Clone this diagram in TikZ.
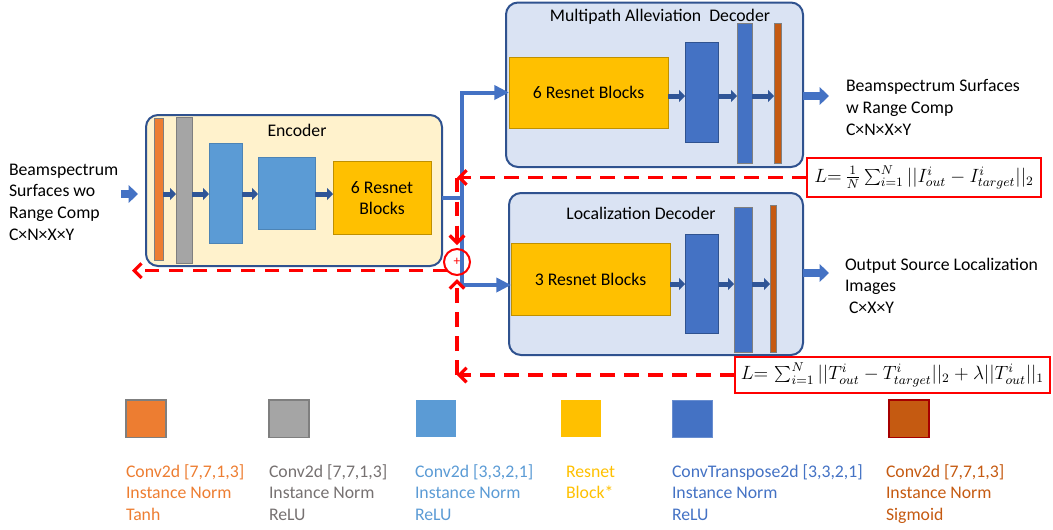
\documentclass[tikz,border=0pt]{standalone}
\usepackage{fontspec}
\setmainfont{Carlito}
\usetikzlibrary{arrows.meta,fit}

\definecolor{encfill}{HTML}{FFF2CC}
\definecolor{decfill}{HTML}{DAE3F3}
\definecolor{frame}{HTML}{2F528F}
\definecolor{corange}{HTML}{ED7D31}
\definecolor{cgray}{HTML}{A5A5A5}
\definecolor{cgrayline}{HTML}{7F7F7F}
\definecolor{clight}{HTML}{5B9BD5}
\definecolor{cgold}{HTML}{FFC000}
\definecolor{cgoldline}{HTML}{BF9000}
\definecolor{cblue}{HTML}{4472C4}
\definecolor{cnavy}{HTML}{2F5597}
\definecolor{cbrown}{HTML}{C55A11}
\definecolor{cred}{HTML}{FF0000}
\definecolor{graytext}{HTML}{767171}

% multi-line text whose baseline is the first line
\newcommand\stackl[1]{\begin{tabular}[t]{@{}l@{}}#1\end{tabular}}
\newcommand\stackc[1]{\begin{tabular}[t]{@{}c@{}}#1\end{tabular}}

\begin{document}
\begin{tikzpicture}[x=0.75pt,y=-0.75pt,
  every node/.style={inner sep=0pt, outer sep=0pt},
  txt/.style={font=\fontsize{13.3pt}{16.3pt}\selectfont},
  mathtxt/.style={font=\fontsize{12pt}{12pt}\selectfont, scale=1.2, transform shape},
  panel/.style={draw=frame, line width=1.5pt, rounded corners=9pt},
  layer/.style={fill=#1, draw=#1!85!black, line width=0.5pt},
  bar/.style={fill=#1, draw=cgrayline, line width=0.6pt},
  resblock/.style={fill=cgold, draw=cgoldline, line width=0.6pt},
  layerarrow/.style={draw=cnavy, line width=3.75pt, -{Triangle[width=9pt,length=4.5pt]}},
  conn/.style={draw=cblue, line width=3pt},
  connarrow/.style={conn, -{Triangle[width=10.5pt,length=11pt]}},
  bigarrow/.style={draw=cblue, line width=6pt, -{Triangle[width=13pt,length=7pt]}},
  lossline/.style={draw=cred, line width=2.4pt, dash pattern=on 11pt off 7pt,
    -{Straight Barb[length=5.5pt,width=11pt]}},
  lossbox/.style={draw=cred, line width=1.5pt, fill=white},
  legsq/.style={fill=#1, minimum width=30pt, minimum height=28pt},
]
\useasboundingbox (0,0) rectangle (1053,529);

% ---------------- Encoder ----------------
\node[panel, fill=encfill, fit={(146,115)(442,266)}] (enc) {};
\node[txt, anchor=base] (enctitle) at (297,136) {Encoder};
\node[bar=corange, fit={(154,118)(163,260)}] (e1) {};
\node[bar=cgray, fit={(176,117)(192,263)}] (e2) {};
\node[layer=clight, fit={(209,143)(242,243)}] (e3) {};
\node[layer=clight, fit={(258,157)(315,229)}] (e4) {};
\node[resblock, fit={(333,161)(431,234)}] (e5) {};
\node[txt, anchor=base] (e5t) at (382,193) {\stackc{6 Resnet\\Blocks}};
\coordinate (ey) at (0,194);
\foreach \a/\b in {e1/e2,e2/e3,e3/e4,e4/e5}
  \draw[layerarrow] (\a.east |- ey) -- (\b.west |- ey);

% input
\node[txt, anchor=base west] (intext) at (9,175)
  {\stackl{Beamspectrum\\Surfaces wo\\Range Comp\\C×N×X×Y}};
\coordinate (inS) at (121,194);
\draw[bigarrow, shorten >=6pt] (inS) -- (enc.west |- inS);

% ---------------- Multipath alleviation decoder ----------------
\node[panel, fill=decfill, fit={(506,2.5)(803,167)}] (dA) {};
\node[txt, anchor=base] (dAtitle) at (660,21) {Multipath Alleviation\ \ Decoder};
\node[resblock, fit={(509,57)(668,128)}] (a1) {};
\node[txt] (a1t) at (a1.center) {6 Resnet Blocks};
\node[layer=cblue, draw=frame, fit={(685,42)(718,142)}] (a2) {};
\node[bar=cblue, fit={(737,23)(752,163)}] (a3) {};
\node[bar=cbrown, fit={(774,23)(781,163)}] (a4) {};
\coordinate (ay) at (0,96);
\foreach \a/\b in {a1/a2,a2/a3,a3/a4}
  \draw[layerarrow] (\a.east |- ay) -- (\b.west |- ay);

\coordinate (outA) at (829,96);
\draw[bigarrow] (dA.east |- outA) -- (outA);
\node[txt, anchor=base west] (outAtext) at (846,91.7)
  {\stackl{Beamspectrum Surfaces\\w Range Comp\\C×N×X×Y}};

% ---------------- Localization decoder ----------------
\node[panel, fill=decfill, fit={(509,193)(803,355)}] (dB) {};
\node[txt, anchor=base] (dBtitle) at (641,219) {Localization Decoder};
\node[resblock, fit={(511,243)(670,315)}] (b1) {};
\node[txt] (b1t) at (b1.center) {3 Resnet Blocks};
\node[layer=cblue, draw=frame, fit={(685,234)(718,333)}] (b2) {};
\node[bar=cblue, fit={(734,207)(752,352)}] (b3) {};
\node[bar=cbrown, fit={(770,205)(776,352)}] (b4) {};
\coordinate (by) at (0,284);
\foreach \a/\b in {b1/b2,b2/b3,b3/b4}
  \draw[layerarrow] (\a.east |- by) -- (\b.west |- by);

\coordinate (outB) at (829,273);
\draw[bigarrow] (dB.east |- outB) -- (outB);
\node[txt, anchor=base west] (outBtext) at (845,270)
  {\stackl{Output Source Localization\\Images\\\ C×X×Y}};

% ---------------- encoder to decoders ----------------
\coordinate (split) at (462,198);
\coordinate (by2) at (0,285);
\draw[conn] (enc.east |- split) -- (split);
\draw[connarrow] (split) |- (a1.west);
\draw[connarrow] (split) |- (b1.west |- by2);

% ---------------- losses and gradient path ----------------
\node[circle, draw=cred, line width=1.5pt, minimum size=19.5pt, text=cred,
  font=\fontsize{10pt}{10pt}\selectfont] (sum) at (457,262) {+};

\node[lossbox, fit={(807,158)(1041,197)}] (loss1) {};
\node[mathtxt] (loss1t) at (loss1.center)
  {$L\mathord{=}\,\frac{1}{N}\sum_{i=1}^{N}||I^{i}_{out}-I^{i}_{target}||_2$};
\node[lossbox, fit={(735,357)(1050,393)}] (loss2) {};
\node[mathtxt] (loss2t) at (loss2.center)
  {$L\mathord{=}\,\sum_{i=1}^{N}||T^{i}_{out}-T^{i}_{target}||_2+\lambda||T^{i}_{out}||_1$};

\coordinate (c1) at (loss1.west -| sum.north);
\coordinate (c2) at (loss2.west -| sum.south);
\coordinate (leftx) at (132,0);
\draw[lossline] (loss1.west) -- (c1);
\draw[lossline, shorten >=3pt] (c1) -- (sum.north);
\draw[lossline] (loss2.west) -- (c2);
\draw[lossline, shorten >=3pt] (c2) -- (sum.south);
\draw[lossline] (sum.222) -- (sum.222 -| leftx);

% ---------------- legend ----------------
\node[legsq=corange, draw=cgrayline, line width=0.8pt, anchor=north west] (lg1) at (126,400) {};
\node[legsq=cgray, draw=cgrayline, line width=0.8pt, anchor=north west] (lg2) at (269,400) {};
\node[legsq=clight, anchor=north west] (lg3) at (416,400) {};
\node[legsq=cgold, anchor=north west] (lg4) at (561,400) {};
\node[legsq=cblue, draw=cblue!80!white, line width=0.5pt, anchor=north west] (lg5) at (672,400) {};
\node[legsq=cbrown, draw=red!65!black, line width=0.8pt, anchor=north west] (lg6) at (889,400) {};

\node[txt, text=corange, anchor=base west] (lt1) at (126,477)
  {\stackl{Conv2d [7,7,1,3]\\Instance Norm\\Tanh}};
\node[txt, text=graytext, anchor=base west] (lt2) at (269,477)
  {\stackl{Conv2d [7,7,1,3]\\Instance Norm\\ReLU}};
\node[txt, text=clight, anchor=base west] (lt3) at (415,477)
  {\stackl{Conv2d [3,3,2,1]\\Instance Norm\\ReLU}};
\node[txt, text=cgold, anchor=base west] (lt4) at (566,477)
  {\stackl{Resnet\\Block*}};
\node[txt, text=cblue, anchor=base west] (lt5) at (672,477)
  {\stackl{ConvTranspose2d [3,3,2,1]\\Instance Norm\\ReLU}};
\node[txt, text=cbrown, anchor=base west] (lt6) at (886,477)
  {\stackl{Conv2d [7,7,1,3]\\Instance Norm\\Sigmoid}};
\end{tikzpicture}
\end{document}
